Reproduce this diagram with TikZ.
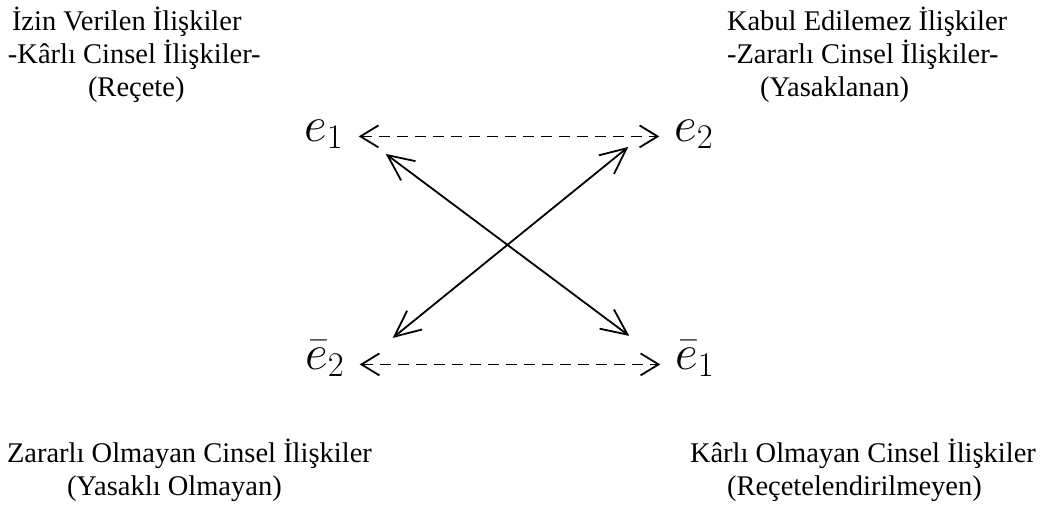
\documentclass[tikz,border=0pt]{standalone}
\usepackage{fontspec}
\setmainfont{Liberation Serif}
\usetikzlibrary{arrows.meta}
\usetikzlibrary{positioning}

\begin{document}
\begin{tikzpicture}[x=0.5pt,y=-0.5pt,
    every node/.style = {inner sep=0pt,outer sep=0pt},
    caption/.style = {align=left,anchor=north west,font=\fontsize{14.25pt}{16.5pt}\selectfont},
    term/.style = {anchor=base,font=\fontsize{24.5pt}{28pt}\selectfont},
    contrary/.style = {line width=.9pt,dash pattern=on 5.5pt off 3.5pt,
        {Straight Barb[length=9pt,width=11pt]}-{Straight Barb[length=9pt,width=11pt]},
        shorten <=7.5pt,shorten >=7.5pt},
    contradict/.style = {line width=.9pt,
        {Straight Barb[length=13pt,width=12pt]}-{Straight Barb[length=13pt,width=12pt]}},
    ]
    \useasboundingbox (0,0) rectangle (1054,508);
    \node[term] (node-e1) at (324,141) {$e_1$};
    \node[term] (node-e2) at (694,141) {$e_2$};
    \node[term] (node-ne2) at (325,369) {$\bar{e}_2$};
    \node[term] (node-ne1) at (695,369) {$\bar{e}_1$};
    \draw[contrary] (node-e1.mid east) -- (node-e2.mid west);
    \draw[contrary] (node-ne2.mid east) -- (node-ne1.mid west);
    \draw[contradict] ([xshift=21pt,yshift=-8.75pt]node-e1.mid east) -- ([xshift=-23pt,yshift=14.25pt]node-ne1.mid west);
    \draw[contradict] ([xshift=24pt,yshift=13.25pt]node-ne2.mid east) -- ([xshift=-23pt,yshift=-5.25pt]node-e2.mid west);

    \node[caption] (text1) at (8,7) {\hspace*{2pt}İzin Verilen İlişkiler\\-Kârlı Cinsel İlişkiler-\\\hspace*{40pt}(Reçete)};
    \node[caption] (text2) at (727,7) {Kabul Edilemez İlişkiler\\-Zararlı Cinsel İlişkiler-\\\hspace*{16.5pt}(Yasaklanan)};
    \node[caption] (text3) at (7,439) {Zararlı Olmayan Cinsel İlişkiler\\\hspace*{30pt}(Yasaklı Olmayan)};
    \node[caption] (text4) at (690,439) {Kârlı Olmayan Cinsel İlişkiler\\\hspace*{18.5pt}(Reçetelendirilmeyen)};
\end{tikzpicture}
\end{document}
